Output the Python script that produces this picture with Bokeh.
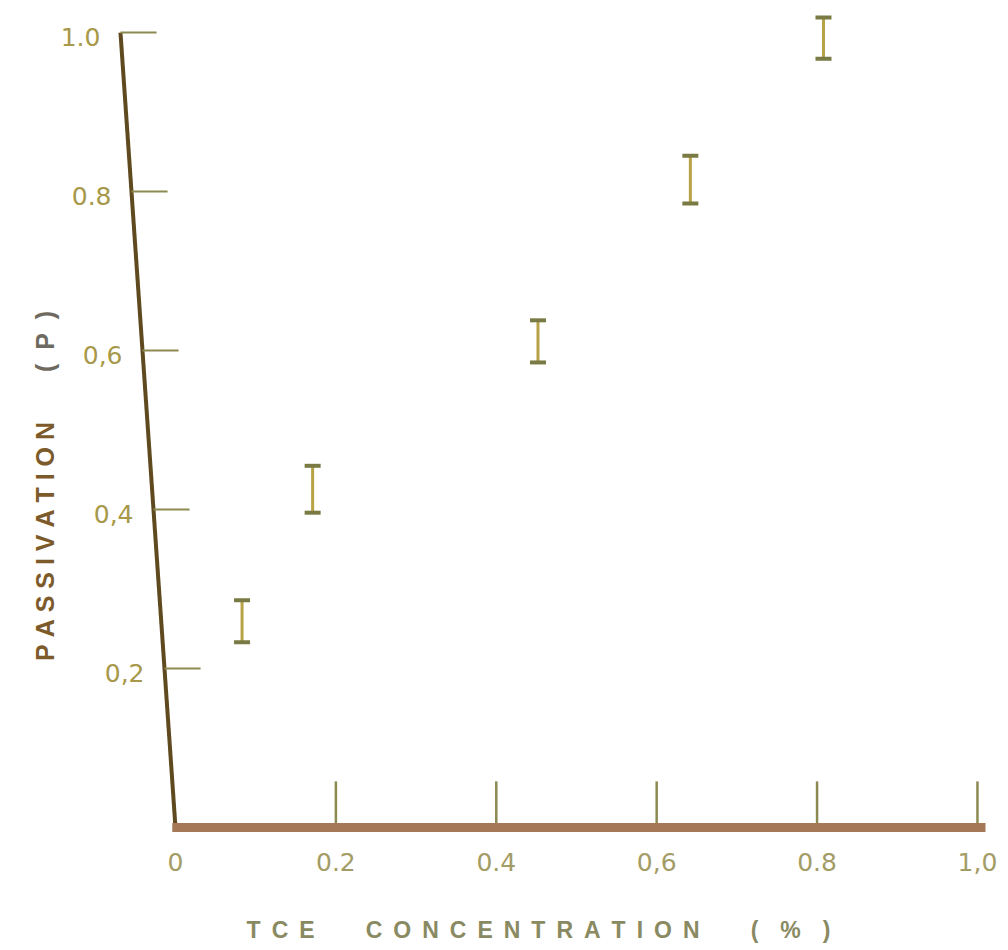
import math
from bokeh.plotting import figure
from bokeh.models import ColumnDataSource, Range1d, Whisker, TeeHead, Label
from bokeh.core.properties import value
from bokeh.embed import file_html
from bokeh.resources import INLINE

# ---- data ----
tce_conc = [0.083, 0.171, 0.452, 0.642, 0.808]          # TCE concentration (%)
passivation_low = [0.233, 0.396, 0.585, 0.785, 0.967]   # lower end of error bar
passivation_high = [0.286, 0.455, 0.638, 0.845, 1.019]  # upper end of error bar

x_tick_values = [0.0, 0.2, 0.4, 0.6, 0.8, 1.0]
x_tick_labels = ["0", "0.2", "0.4", "0,6", "0.8", "1,0"]
y_tick_values = [0.2, 0.4, 0.6, 0.8, 1.0]
y_tick_labels = ["0,2", "0,4", "0,6", "0.8", "1.0"]
x_title_words = ["TCE", "CONCENTRATION", "(%)"]
y_title_word = "PASSIVATION"
y_title_unit = "(P)"

# ---- styling ----
W, H = 1008, 950
Y_AXIS_LEAN = -0.0686     # scanned axis leans left towards the top
NB = "\u00a0"
GAP = "\u00a0\u2009"
TITLE_FONT = "Liberation Sans"
TICK_FONT = value("DejaVu Sans")

p = figure(width=W, height=H, output_backend="svg", toolbar_location=None,
           x_axis_location=None, y_axis_location=None, min_border=0,
           x_range=Range1d(-0.2182, 1.0387), y_range=Range1d(-0.1547, 1.0403),
           background_fill_color="white", border_fill_color="white")
p.grid.visible = False
p.outline_line_color = None

# y axis line (slanted) and ticks
ymax = max(y_tick_values)
p.segment(x0=[Y_AXIS_LEAN * ymax], y0=[ymax], x1=[0], y1=[0],
          line_color="#5f4a1f", line_width=4)
ytick_x = [Y_AXIS_LEAN * v for v in y_tick_values]
p.segment(x0=ytick_x, y0=y_tick_values, x1=[x + 0.045 for x in ytick_x],
          y1=y_tick_values, line_color="#8c8a50", line_width=2)
p.text(x=ytick_x, y=y_tick_values, text=y_tick_labels, x_offset=-20, y_offset=4,
       text_align="right", text_baseline="middle", text_font=TICK_FONT,
       text_font_size="25px", text_color="#a8984a")

# x axis ticks, line and labels
xt = [v for v in x_tick_values if v > 0]
p.segment(x0=xt, y0=[0] * len(xt), x1=xt, y1=[0.058] * len(xt),
          line_color="#8c8a50", line_width=2.5)
p.segment(x0=[-0.004], y0=[0], x1=[max(x_tick_values) + 0.01], y1=[0],
          line_color="#a57858", line_width=9)
p.text(x=x_tick_values, y=[0] * len(x_tick_values), text=x_tick_labels,
       y_offset=34, text_align="center", text_baseline="middle", text_font=TICK_FONT,
       text_font_size="25px", text_color="#a39c66")

# error bars
src = ColumnDataSource(dict(x=tce_conc, lower=passivation_low, upper=passivation_high))
whisk = Whisker(source=src, base="x", lower="lower", upper="upper", dimension="height",
                line_color="#b8a245", line_width=3,
                upper_head=TeeHead(size=16, line_color="#7a7a45", line_width=4),
                lower_head=TeeHead(size=16, line_color="#7a7a45", line_width=4))
p.add_layout(whisk)

# axis titles (letter-spaced like the typed original)
x_title = (NB * 8).join((GAP * (2 if len(w) <= 3 and not w.isalpha() else 1)).join(w)
                        for w in x_title_words)
p.add_layout(Label(x=538, y=H - 929, x_units="screen", y_units="screen", text=x_title,
                   text_align="center", text_baseline="middle", text_font=TITLE_FONT,
                   text_font_size="23px", text_font_style="bold", text_color="#8a8a62"))
p.add_layout(Label(x=44, y=H - 541, x_units="screen", y_units="screen",
                   text=NB.join(y_title_word), angle=math.pi / 2,
                   text_align="center", text_baseline="middle", text_font=TITLE_FONT,
                   text_font_size="25px", text_font_style="bold", text_color="#7d5a2a"))
p.add_layout(Label(x=44, y=H - 341, x_units="screen", y_units="screen",
                   text=(NB * 2).join(y_title_unit), angle=math.pi / 2,
                   text_align="center", text_baseline="middle", text_font=TITLE_FONT,
                   text_font_size="25px", text_font_style="bold", text_color="#6e6a60"))

open("out.html", "w").write(file_html(p, INLINE))
